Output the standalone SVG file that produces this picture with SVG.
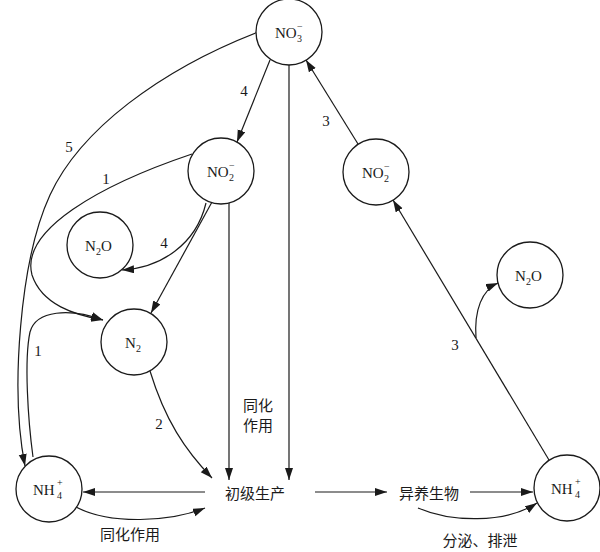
<svg xmlns="http://www.w3.org/2000/svg" width="600" height="552" viewBox="0 0 600 552">
<style>
.n{fill:#fff;stroke:#1a1a1a;stroke-width:1.3}
.c{fill:none;stroke:#1a1a1a;stroke-width:1.2}
.a{marker-end:url(#ah)}
text{font-family:'Liberation Serif','Times New Roman','DejaVu Serif',serif;fill:#1a1a1a}
.t{font-size:15px}
.s{font-size:10px}
.l{font-size:15px;text-anchor:middle}
.z{font-family:'Noto Sans CJK SC',sans-serif;font-size:15px;text-anchor:middle}
</style>
<defs>
<marker id="ah" markerUnits="userSpaceOnUse" markerWidth="14" markerHeight="10" refX="12" refY="4" orient="auto">
<path d="M0,0 L12,4 L0,8 Z" fill="#1a1a1a"/>
</marker>
</defs>
<rect width="600" height="552" fill="#fff"/>
<g id="connectors">
<path class="c a" d="M258,32 C160,70 80,130 50,195 C20,260 10,390 25,466"/>
<path class="c a" d="M270,60 L237,142"/>
<path class="c a" d="M289,65 L289,480"/>
<path class="c a" d="M358,144 L306,60"/>
<path class="c a" d="M549,460 L393,200"/>
<path class="c a" d="M476,338 C474,310 482,290 498,283"/>
<path class="c a" d="M192,154 C100,185 20,230 32,275 C42,305 75,315 103,320"/>
<path class="c a" d="M33,457 C28,420 24,360 30,332 C36,310 70,308 103,320"/>
<path class="c a" d="M206,203 C196,245 160,268 122,270"/>
<path class="c a" d="M212,202 L151,313"/>
<path class="c a" d="M229,203 L229,480"/>
<path class="c a" d="M150,371 C165,420 185,450 212,478"/>
<path class="c a" d="M205,492 L83,492"/>
<path class="c a" d="M76,507 C110,525 170,522 205,508"/>
<path class="c a" d="M315,492 L387,492"/>
<path class="c a" d="M470,492 L533,492"/>
<path class="c a" d="M418,508 C450,522 505,524 537,503"/>
</g>
<g id="labels">
<text class="l" x="244" y="96">4</text>
<text class="l" x="326" y="126">3</text>
<text class="l" x="69" y="152">5</text>
<text class="l" x="106" y="184">1</text>
<text class="l" x="164" y="248">4</text>
<text class="l" x="38" y="356">1</text>
<text class="l" x="159" y="429">2</text>
<text class="l" x="455" y="350">3</text>
<text class="z" x="258" y="411">同化</text>
<text class="z" x="258" y="431">作用</text>
<text class="z" x="130" y="540">同化作用</text>
<text class="z" x="480" y="546">分泌、排泄</text>
</g>
<g id="NO3"><circle class="n" cx="289" cy="32" r="33"/><text class="t" x="275" y="38">NO</text><text class="s" x="297" y="42">3</text><text class="s" x="297" y="30">−</text></g>
<g id="NO2L"><circle class="n" cx="221" cy="171" r="33"/><text class="t" x="207" y="177">NO</text><text class="s" x="229" y="181">2</text><text class="s" x="229" y="169">−</text></g>
<g id="NO2R"><circle class="n" cx="376" cy="172" r="33"/><text class="t" x="362" y="178">NO</text><text class="s" x="384" y="182">2</text><text class="s" x="384" y="170">−</text></g>
<g id="N2OL"><circle class="n" cx="100" cy="245" r="33"/><text class="t" x="85" y="251">N</text><text class="s" x="96" y="255">2</text><text class="t" x="101" y="251">O</text></g>
<g id="N2OR"><circle class="n" cx="530" cy="275" r="33"/><text class="t" x="515" y="281">N</text><text class="s" x="526" y="285">2</text><text class="t" x="531" y="281">O</text></g>
<g id="N2"><circle class="n" cx="134" cy="342" r="33"/><text class="t" x="125" y="348">N</text><text class="s" x="136" y="352">2</text></g>
<g id="NH4L"><circle class="n" cx="49" cy="489" r="33"/><text class="t" x="33" y="495">NH</text><text class="s" x="57" y="499">4</text><text class="s" x="57" y="486">+</text></g>
<g id="NH4R"><circle class="n" cx="567" cy="488" r="33"/><text class="t" x="551" y="494">NH</text><text class="s" x="575" y="498">4</text><text class="s" x="575" y="485">+</text></g>
<g id="primary"><text class="z" x="255" y="499">初级生产</text></g>
<g id="hetero"><text class="z" x="429" y="499">异养生物</text></g>
</svg>
